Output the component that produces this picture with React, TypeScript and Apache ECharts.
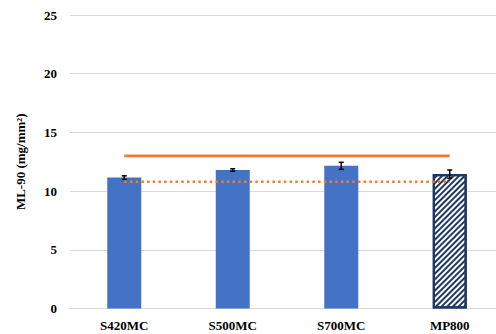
import React, { useEffect, useRef } from "react";
import * as echarts from "echarts";

// Steel grades on the category axis
const categories = ["S420MC", "S500MC", "S700MC", "MP800"];
// Mean ML-90 per grade (mg/mm²)
const meanValues = [11.15, 11.8, 12.15, 11.45];
// Standard deviation shown as error bars
const errorValues = [0.15, 0.1, 0.3, 0.35];
// Reference levels drawn as horizontal lines
const upperLimit = [13, 13, 13, 13];
const lowerLimit = [10.8, 10.8, 10.8, 10.8];
const yTicks = { min: 0, max: 25, interval: 5 };

const SERIF = "'Liberation Serif', 'Times New Roman', serif";
const BLUE = "#4472c4";
const NAVY = "#1f3864";
const ORANGE = "#ed7d31";

export default function App() {
  const ref = useRef<HTMLDivElement>(null);

  useEffect(() => {
    if (!ref.current) return;
    const chart = echarts.init(ref.current, undefined, { renderer: "svg" });

    const barData = meanValues.map((v, i) =>
      i === categories.length - 1
        ? {
            value: v,
            itemStyle: {
              color: "#ffffff",
              borderColor: NAVY,
              borderWidth: 2.2,
              decal: {
                symbol: "rect",
                symbolSize: 1,
                color: NAVY,
                dashArrayX: [1, 0],
                dashArrayY: [1.5, 1.6],
                rotation: -Math.PI / 4,
              },
            },
          }
        : { value: v }
    );

    const errData = meanValues.map((v, i) => [i, v, errorValues[i]]);

    chart.setOption({
      animation: false,
      grid: {
        left: 70,
        top: 15,
        width: 434,
        height: 293.5,
        outerBoundsMode: "none",
        containLabel: false,
      },
      xAxis: {
        type: "category",
        data: categories,
        axisTick: { show: false },
        axisLine: { lineStyle: { color: "#d9d9d9", width: 1 } },
        axisLabel: {
          margin: 10,
          color: "#000",
          fontFamily: SERIF,
          fontWeight: "bold",
          fontSize: 13,
        },
      },
      yAxis: {
        type: "value",
        min: yTicks.min,
        max: yTicks.max,
        interval: yTicks.interval,
        name: "ML-90 (mg/mm²)",
        nameLocation: "middle",
        nameRotate: 90,
        nameGap: 43,
        nameTextStyle: {
          color: "#000",
          fontFamily: SERIF,
          fontWeight: "bold",
          fontSize: 13,
        },
        axisLine: { show: false },
        axisTick: { show: false },
        splitLine: { lineStyle: { color: "#d9d9d9", width: 1 } },
        axisLabel: {
          margin: 13,
          color: "#000",
          fontFamily: SERIF,
          fontWeight: "bold",
          fontSize: 13,
        },
      },
      series: [
        {
          type: "bar",
          data: barData,
          barWidth: 34,
          itemStyle: { color: BLUE },
          z: 2,
        },
        {
          type: "line",
          data: upperLimit,
          symbol: "none",
          lineStyle: { color: ORANGE, width: 2.7 },
          z: 3,
        },
        {
          type: "line",
          data: lowerLimit,
          symbol: "none",
          lineStyle: { color: ORANGE, width: 2.5, type: [2.5, 3.2] },
          z: 3,
        },
        {
          type: "custom",
          data: errData,
          encode: { x: 0, y: 1 },
          z: 4,
          renderItem: (params: any, api: any) => {
            const idx = api.value(0);
            const mean = api.value(1);
            const err = api.value(2);
            const top = api.coord([idx, mean + err]);
            const bot = api.coord([idx, mean - err]);
            const cap = 2.5;
            const style = { stroke: "#000", lineWidth: 1.5 };
            return {
              type: "group",
              children: [
                { type: "line", shape: { x1: top[0], y1: top[1], x2: bot[0], y2: bot[1] }, style },
                { type: "line", shape: { x1: top[0] - cap, y1: top[1], x2: top[0] + cap, y2: top[1] }, style },
                { type: "line", shape: { x1: bot[0] - cap, y1: bot[1], x2: bot[0] + cap, y2: bot[1] }, style },
              ],
            };
          },
        },
      ],
    });

    return () => chart.dispose();
  }, []);

  return (
    <div
      ref={ref}
      style={{ position: "fixed", left: 0, top: 0, width: 496, height: 334, background: "#fff" }}
    />
  );
}
